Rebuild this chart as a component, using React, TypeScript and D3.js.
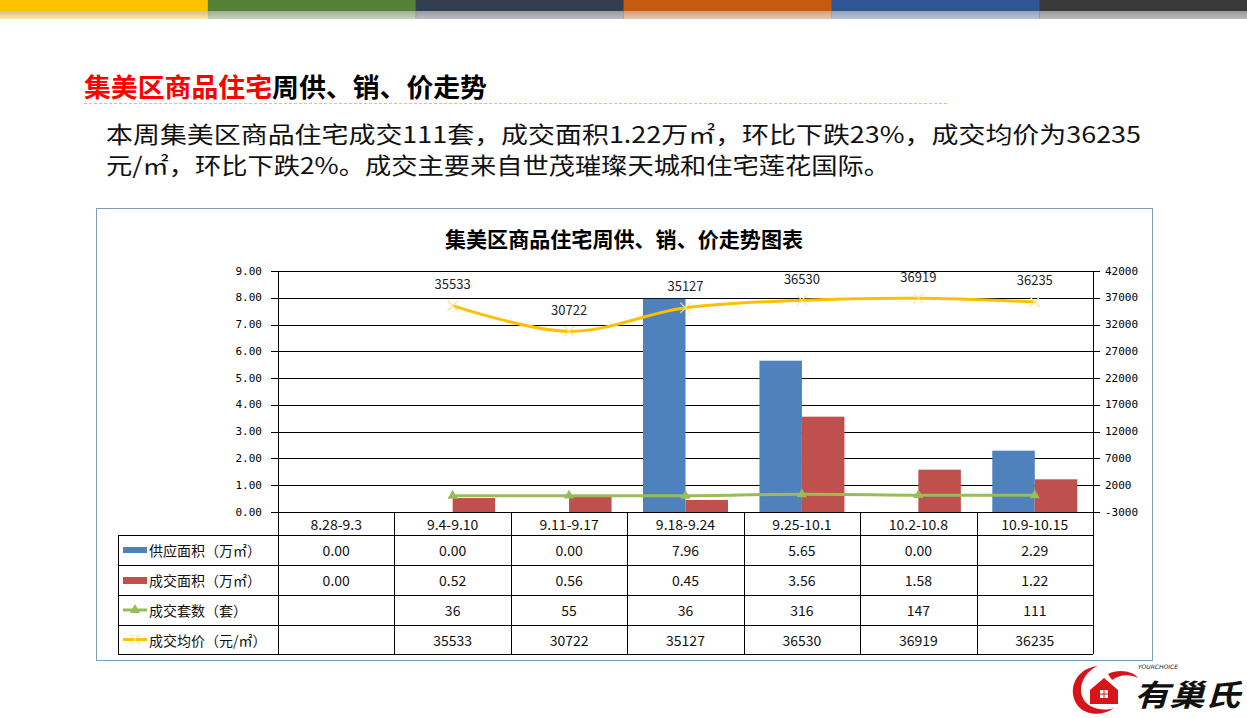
import * as d3 from "d3";
import { useEffect, useRef } from "react";

// 数据
const weeks = ["8.28-9.3", "9.4-9.10", "9.11-9.17", "9.18-9.24", "9.25-10.1", "10.2-10.8", "10.9-10.15"];
const supplyArea = [0.0, 0.0, 0.0, 7.96, 5.65, 0.0, 2.29];
const dealArea = [0.0, 0.52, 0.56, 0.45, 3.56, 1.58, 1.22];
const dealUnits: (number | null)[] = [null, 36, 55, 36, 316, 147, 111];
const avgPrice: (number | null)[] = [null, 35533, 30722, 35127, 36530, 36919, 36235];
const leftTicks = [0, 1, 2, 3, 4, 5, 6, 7, 8, 9];
const rightTicks = [-3000, 2000, 7000, 12000, 17000, 22000, 27000, 32000, 37000, 42000];
const seriesNames = ["供应面积（万㎡）", "成交面积（万㎡）", "成交套数（套）", "成交均价（元/㎡）"];
const stripeColors = ["#FFC000", "#548235", "#333F50", "#C55A11", "#2F5597", "#3A3838"];

const W = 1247;
const H = 718;
const CJK = "'Noto Sans CJK SC', 'Microsoft YaHei', sans-serif";
const MONO = "'DejaVu Sans Mono', monospace";

const BLUE = "#4F81BD";
const RED = "#C0504D";
const GREEN = "#9BBB59";
const GOLD = "#FFC000";

const App = () => {
  const ref = useRef<SVGSVGElement>(null);

  useEffect(() => {
    const svg = d3.select(ref.current);
    svg.selectAll("*").remove();

    const plot = { left: 278, right: 1093, top: 271, bottom: 512 };

    // 顶部色条
    const defs = svg.append("defs");
    const fade = defs.append("linearGradient").attr("id", "fade").attr("x1", 0).attr("x2", 0).attr("y1", 0).attr("y2", 1);
    fade.append("stop").attr("offset", "0%").attr("stop-color", "#000").attr("stop-opacity", 0.18);
    fade.append("stop").attr("offset", "100%").attr("stop-color", "#000").attr("stop-opacity", 0);
    const stripeX = d3.scaleBand<number>().domain(d3.range(stripeColors.length)).range([0, W]);
    stripeColors.forEach((c, i) => {
      svg.append("rect").attr("x", stripeX(i)!).attr("y", 0).attr("width", stripeX.bandwidth() + 0.5).attr("height", 11).attr("fill", c);
      svg.append("rect").attr("x", stripeX(i)!).attr("y", 11).attr("width", stripeX.bandwidth() + 0.5).attr("height", 8).attr("fill", c).attr("opacity", 0.35);
    });
    svg.append("rect").attr("x", 0).attr("y", 11).attr("width", W).attr("height", 8).attr("fill", "url(#fade)");

    // 标题
    const head = svg.append("text").attr("x", 84).attr("y", 85).attr("dominant-baseline", "central")
      .attr("font-family", CJK).attr("font-size", 26).attr("font-weight", "bold")
      .attr("textLength", 403).attr("lengthAdjust", "spacingAndGlyphs");
    head.append("tspan").attr("fill", "#FF0000").text("集美区商品住宅");
    head.append("tspan").attr("fill", "#000").text("周供、销、价走势");
    svg.append("line").attr("x1", 84).attr("x2", 948).attr("y1", 103.5).attr("y2", 103.5)
      .attr("stroke", "#F5C242").attr("stroke-dasharray", "3,2").attr("stroke-width", 1);

    const para = [
      { t: "本周集美区商品住宅成交111套，成交面积1.22万㎡，环比下跌23%，成交均价为36235", y: 133, len: 1035 },
      { t: "元/㎡，环比下跌2%。成交主要来自世茂璀璨天城和住宅莲花国际。", y: 164, len: 784 },
    ];
    para.forEach(p => {
      svg.append("text").attr("x", 106).attr("y", p.y).attr("dominant-baseline", "central")
        .attr("font-family", CJK).attr("font-size", 23).attr("fill", "#111")
        .attr("textLength", p.len).attr("lengthAdjust", "spacingAndGlyphs").text(p.t);
    });

    // 图表框
    svg.append("rect").attr("x", 96.5).attr("y", 208.5).attr("width", 1056).attr("height", 452)
      .attr("fill", "#fff").attr("stroke", "#7F9DB9");
    svg.append("text").attr("x", 624).attr("y", 238).attr("text-anchor", "middle").attr("dominant-baseline", "central")
      .attr("font-family", CJK).attr("font-size", 21).attr("font-weight", "bold").attr("fill", "#000")
      .attr("textLength", 358).attr("lengthAdjust", "spacingAndGlyphs")
      .text("集美区商品住宅周供、销、价走势图表");

    // 比例尺
    const x = d3.scaleBand<string>().domain(weeks).range([plot.left, plot.right]);
    const xSub = d3.scaleBand<string>().domain(["s", "d"]).range([0, x.bandwidth()]).paddingOuter(0.37).paddingInner(0);
    const yL = d3.scaleLinear().domain([0, 9]).range([plot.bottom, plot.top]);
    const yR = d3.scaleLinear().domain([-3000, 42000]).range([plot.bottom, plot.top]);

    // 网格线
    svg.append("g").attr("shape-rendering", "crispEdges").selectAll("line").data(leftTicks).join("line")
      .attr("x1", plot.left - 7).attr("x2", plot.right).attr("y1", d => Math.round(yL(d)) + 0.5).attr("y2", d => Math.round(yL(d)) + 0.5)
      .attr("stroke", "#000");
    svg.append("g").attr("shape-rendering", "crispEdges").selectAll("line").data(rightTicks).join("line")
      .attr("x1", plot.right).attr("x2", plot.right + 7).attr("y1", d => Math.round(yR(d)) + 0.5).attr("y2", d => Math.round(yR(d)) + 0.5)
      .attr("stroke", "#000");

    svg.append("g").selectAll("text").data(leftTicks).join("text")
      .attr("x", 262).attr("y", d => yL(d)).attr("text-anchor", "end").attr("dominant-baseline", "central")
      .attr("font-family", MONO).attr("font-size", 11).attr("fill", "#000").text(d => d3.format(".2f")(d));
    svg.append("g").selectAll("text").data(rightTicks).join("text")
      .attr("x", 1105).attr("y", d => yR(d)).attr("dominant-baseline", "central")
      .attr("font-family", MONO).attr("font-size", 11).attr("fill", "#000").text(d => String(d));

    // 柱
    const bars = svg.append("g");
    bars.selectAll("rect.s").data(weeks).join("rect").attr("class", "s")
      .attr("x", d => x(d)! + xSub("s")!).attr("width", xSub.bandwidth())
      .attr("y", (d, i) => yL(supplyArea[i])).attr("height", (d, i) => plot.bottom - yL(supplyArea[i]))
      .attr("fill", BLUE);
    bars.selectAll("rect.d").data(weeks).join("rect").attr("class", "d")
      .attr("x", d => x(d)! + xSub("d")!).attr("width", xSub.bandwidth())
      .attr("y", (d, i) => yL(dealArea[i])).attr("height", (d, i) => plot.bottom - yL(dealArea[i]))
      .attr("fill", RED);

    const cx = (i: number) => x(weeks[i])! + x.bandwidth() / 2;

    // 成交套数
    const units = dealUnits.map((v, i) => ({ i, v })).filter(d => d.v !== null) as { i: number; v: number }[];
    const line = d3.line<{ i: number; v: number }>().x(d => cx(d.i)).y(d => yR(d.v)).curve(d3.curveCatmullRom.alpha(0.5));
    svg.append("path").attr("d", line(units)).attr("fill", "none").attr("stroke", GREEN).attr("stroke-width", 3);
    const tri = d3.symbol().type(d3.symbolTriangle).size(45);
    svg.append("g").selectAll("path").data(units).join("path")
      .attr("transform", d => `translate(${cx(d.i)},${yR(d.v)})`).attr("d", tri()).attr("fill", GREEN);

    // 成交均价
    const prices = avgPrice.map((v, i) => ({ i, v })).filter(d => d.v !== null) as { i: number; v: number }[];
    svg.append("path").attr("d", line(prices)).attr("fill", "none").attr("stroke", GOLD).attr("stroke-width", 3);
    const cross = d3.symbol().type(d3.symbolX).size(70);
    svg.append("g").selectAll("path").data(prices).join("path")
      .attr("transform", d => `translate(${cx(d.i)},${yR(d.v)})`).attr("d", cross())
      .attr("fill", "none").attr("stroke", "#FFE08A").attr("stroke-width", 1.2);
    svg.append("g").selectAll("text").data(prices).join("text")
      .attr("x", d => cx(d.i)).attr("y", d => yR(d.v) - 22).attr("text-anchor", "middle").attr("dominant-baseline", "central")
      .attr("font-family", CJK).attr("font-size", 13).attr("fill", "#222").text(d => String(d.v));

    // 数据表
    const rowY = [512, 535, 565, 595, 625, 654];
    const tbl = svg.append("g").attr("stroke", "#000").attr("shape-rendering", "crispEdges");
    tbl.append("line").attr("x1", plot.left).attr("x2", plot.left).attr("y1", plot.top).attr("y2", rowY[5]);
    tbl.append("line").attr("x1", plot.right).attr("x2", plot.right).attr("y1", plot.top).attr("y2", rowY[5]);
    tbl.append("line").attr("x1", 118).attr("x2", 118).attr("y1", rowY[1]).attr("y2", rowY[5]);
    weeks.slice(1).forEach(w => {
      tbl.append("line").attr("x1", Math.round(x(w)!)).attr("x2", Math.round(x(w)!)).attr("y1", rowY[0]).attr("y2", rowY[5]);
    });
    rowY.slice(1).forEach(y => {
      tbl.append("line").attr("x1", 118).attr("x2", plot.right).attr("y1", y).attr("y2", y);
    });

    const cellText = (i: number, yMid: number, t: string) =>
      svg.append("text").attr("x", cx(i)).attr("y", yMid).attr("text-anchor", "middle").attr("dominant-baseline", "central")
        .attr("font-family", CJK).attr("font-size", 14).attr("fill", "#111").text(t);

    weeks.forEach((w, i) => cellText(i, (rowY[0] + rowY[1]) / 2, w));
    const rows: (number | null)[][] = [supplyArea, dealArea, dealUnits, avgPrice];
    rows.forEach((vals, r) => {
      const yMid = (rowY[r + 1] + rowY[r + 2]) / 2;
      vals.forEach((v, i) => {
        if (v === null) return;
        cellText(i, yMid, r < 2 ? d3.format(".2f")(v) : String(v));
      });
      svg.append("text").attr("x", 149).attr("y", yMid).attr("dominant-baseline", "central")
        .attr("font-family", CJK).attr("font-size", 14).attr("fill", "#111").text(seriesNames[r]);
    });

    // 图例键
    const legY = (r: number) => (rowY[r + 1] + rowY[r + 2]) / 2;
    svg.append("rect").attr("x", 123).attr("y", legY(0) - 3).attr("width", 24).attr("height", 6).attr("fill", BLUE);
    svg.append("rect").attr("x", 123).attr("y", legY(1) - 3).attr("width", 24).attr("height", 7).attr("fill", RED);
    svg.append("line").attr("x1", 123).attr("x2", 147).attr("y1", legY(2)).attr("y2", legY(2)).attr("stroke", GREEN).attr("stroke-width", 3);
    svg.append("path").attr("transform", `translate(135,${legY(2)})`).attr("d", tri()).attr("fill", GREEN);
    svg.append("line").attr("x1", 123).attr("x2", 147).attr("y1", legY(3)).attr("y2", legY(3)).attr("stroke", GOLD).attr("stroke-width", 3);
    svg.append("path").attr("transform", `translate(135,${legY(3)})`).attr("d", cross())
      .attr("fill", "none").attr("stroke", "#FFE08A").attr("stroke-width", 1.2);

    // 标志
    const logo = svg.append("g").attr("transform", "translate(1068,660)");
    logo.append("path").attr("d", "M30 6 C8 8 -2 30 10 46 C18 56 36 56 46 48 C34 52 18 48 14 36 C10 22 20 10 30 6 Z").attr("fill", "#D7141A");
    logo.append("path").attr("d", "M22 30 L36 18 L50 30 L50 44 L22 44 Z").attr("fill", "#D7141A");
    logo.append("path").attr("d", "M40 14 C52 8 66 12 70 18 C62 14 52 14 44 20 Z").attr("fill", "#D7141A");
    logo.append("rect").attr("x", 32).attr("y", 30).attr("width", 8).attr("height", 8).attr("fill", "#fff");
    logo.append("line").attr("x1", 36).attr("x2", 36).attr("y1", 30).attr("y2", 38).attr("stroke", "#D7141A").attr("stroke-width", 1);
    logo.append("line").attr("x1", 32).attr("x2", 40).attr("y1", 34).attr("y2", 34).attr("stroke", "#D7141A").attr("stroke-width", 1);
    logo.append("text").attr("x", 70).attr("y", 9).attr("font-family", "'DejaVu Sans', sans-serif").attr("font-size", 6)
      .attr("font-style", "italic").attr("fill", "#222").text("YOURCHOICE");
    logo.append("text").attr("x", 66).attr("y", 46).attr("font-family", CJK).attr("font-size", 30).attr("font-weight", "bold")
      .attr("font-style", "italic").attr("fill", "#111").attr("textLength", 106).attr("lengthAdjust", "spacingAndGlyphs").text("有巢氏");
  }, []);

  return (
    <svg ref={ref} width={W} height={H} style={{ position: "absolute", left: 0, top: 0, background: "#fff" }} />
  );
};

export default App;
